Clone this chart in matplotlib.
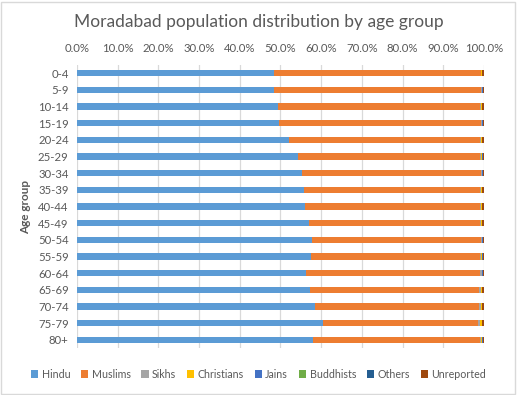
import matplotlib
matplotlib.use("Agg")
import matplotlib.pyplot as plt
from matplotlib.patches import Rectangle
from matplotlib.ticker import FuncFormatter
import numpy as np

plt.rcParams['font.family'] = ['Lato', 'DejaVu Sans']

age_groups = ["0-4", "5-9", "10-14", "15-19", "20-24", "25-29", "30-34", "35-39",
              "40-44", "45-49", "50-54", "55-59", "60-64", "65-69", "70-74", "75-79", "80+"]
hindu = [48.4, 48.4, 49.4, 49.7, 52.2, 54.3, 55.3, 55.8, 56.1, 57.1, 57.7, 57.6, 56.3, 57.2, 58.5, 60.5, 58.0]
muslims = [50.8, 50.9, 49.7, 49.6, 46.9, 44.8, 43.9, 43.3, 43.0, 42.0, 41.5, 41.4, 42.8, 41.5, 40.2, 38.0, 41.0]
sikhs = [0.1, 0.1, 0.1, 0.1, 0.2, 0.2, 0.2, 0.2, 0.2, 0.2, 0.2, 0.3, 0.3, 0.5, 0.5, 0.6, 0.3]
christians = [0.2, 0.2, 0.2, 0.2, 0.2, 0.3, 0.2, 0.2, 0.2, 0.2, 0.2, 0.3, 0.2, 0.3, 0.2, 0.4, 0.3]
jains = [0.03, 0.03, 0.03, 0.03, 0.03, 0.03, 0.03, 0.03, 0.03, 0.03, 0.03, 0.03, 0.03, 0.03, 0.03, 0.03, 0.03]
buddhists = [0.02, 0.02, 0.02, 0.02, 0.02, 0.02, 0.02, 0.02, 0.02, 0.02, 0.02, 0.02, 0.02, 0.02, 0.02, 0.02, 0.02]
others = [0.03, 0.03, 0.03, 0.03, 0.03, 0.03, 0.03, 0.03, 0.03, 0.03, 0.03, 0.03, 0.03, 0.03, 0.03, 0.03, 0.03]
unreported = [0.42, 0.32, 0.52, 0.32, 0.42, 0.32, 0.32, 0.42, 0.42, 0.42, 0.32, 0.32, 0.32, 0.42, 0.52, 0.42, 0.32]

series_names = ["Hindu", "Muslims", "Sikhs", "Christians", "Jains", "Buddhists", "Others", "Unreported"]
series_values = [hindu, muslims, sikhs, christians, jains, buddhists, others, unreported]
colors = ["#5B9BD5", "#ED7D31", "#A5A5A5", "#FFC000", "#4472C4", "#70AD47", "#255E91", "#9E480E"]

text_color = "#595959"

fig = plt.figure(figsize=(5.17, 3.95), dpi=100)
ax = fig.add_axes([0.1489, 0.1182, 0.7873, 0.718])

y = np.arange(len(age_groups))
left = np.zeros(len(age_groups))
for name, vals, c in zip(series_names, series_values, colors):
    v = np.array(vals, dtype=float)
    ax.barh(y, v, left=left, height=0.38, color=c, label=name, zorder=3)
    left += v

ax.set_xlim(0, 100)
ax.set_ylim(len(age_groups) - 0.5, -0.5)
ax.set_xticks(np.arange(0, 101, 10))
ax.xaxis.set_major_formatter(FuncFormatter(lambda v, p: f"{v:.1f}%"))
ax.xaxis.tick_top()
ax.set_yticks(y)
ax.set_yticklabels(age_groups)
ax.tick_params(axis='both', length=0, labelsize=8.2, colors=text_color)
ax.tick_params(axis='x', pad=8)
ax.tick_params(axis='y', pad=6)
ax.grid(axis='x', color="#D9D9D9", linewidth=0.9, zorder=0)
for s in ax.spines.values():
    s.set_visible(False)

ax.set_ylabel("Age group", fontsize=8.5, fontweight='bold', color=text_color, labelpad=5)

fig.text(0.5, 0.945, "Moradabad population distribution by age group", ha='center', va='center',
         fontsize=12.5, color=text_color)

leg = fig.legend(loc='center', bbox_to_anchor=(0.5, 0.053), ncol=8, frameon=False,
                 fontsize=7.7, handlelength=0.7, handleheight=0.7, handletextpad=0.3,
                 columnspacing=1.0, labelcolor=text_color)

fig.patches.append(Rectangle((0.002, 0.003), 0.995, 0.993, transform=fig.transFigure,
                             fill=False, edgecolor="#D9D9D9", linewidth=1.0))

fig.savefig("out.png", dpi=100, facecolor="white")
